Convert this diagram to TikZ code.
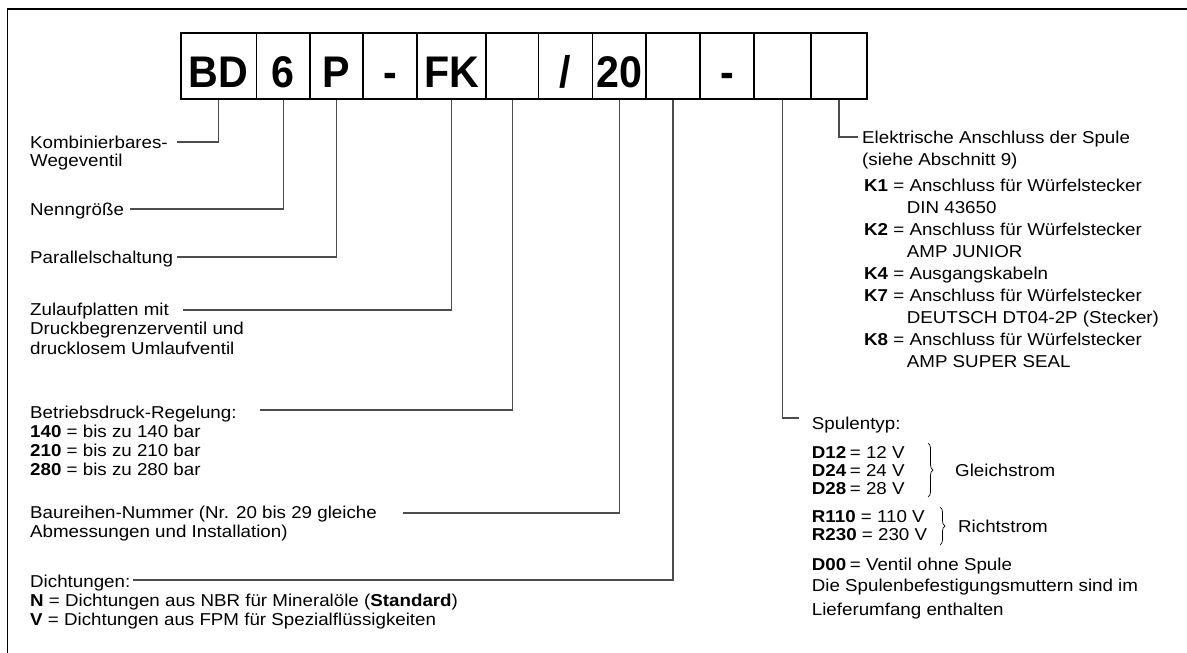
\documentclass[tikz,border=0pt]{standalone}
\usepackage{fontspec}
\setmainfont{Liberation Sans}[FakeStretch=1.09]
\newfontfamily\boxfont{Liberation Sans}[FakeStretch=0.93]
\usetikzlibrary{decorations.pathreplacing}
\begin{document}
\begin{tikzpicture}[x=1pt,y=-1pt,font=\fontsize{17.2}{19}\selectfont,
  box/.style={draw,line width=1.1pt,inner sep=0pt,minimum height=66pt,
    text height=42pt,text depth=0pt,
    font=\boxfont\fontsize{44.3}{44}\selectfont\bfseries},
  conn/.style={line width=1.1pt,black!70},
  lbl/.style={anchor=base west,inner sep=0pt},
  brc/.style={decorate,decoration={brace,amplitude=5pt},line width=0.7pt}]
\useasboundingbox (0,0) rectangle (1187,653);
\draw[line width=1.2pt] (7.5,653) -- (7.5,9) -- (1187,9);
% code boxes
\node[box,minimum width=75.5pt] (b1) at (218.75,66) {BD};
\node[box,minimum width=53.5pt] (b2) at (283.25,66) {6};
\node[box,minimum width=53pt] (b3) at (336.5,66) {P};
\node[box,minimum width=54pt] (b4) at (390,66) {-};
\node[box,minimum width=69pt] (b5) at (451.5,66) {FK};
\node[box,minimum width=52.5pt] (b6) at (512.25,66) {};
\node[box,minimum width=54.2pt] (b7) at (565.6,66) {/};
\node[box,minimum width=53.3pt] (b8) at (619.35,66) {20};
\node[box,minimum width=54pt] (b9) at (673,66) {};
\node[box,minimum width=54pt] (b10) at (727,66) {-};
\node[box,minimum width=57pt] (b11) at (782.5,66) {};
\node[box,minimum width=56pt] (b12) at (839,66) {};
% left labels
\node[lbl] (t1a) at (30,148) {Kombinierbares-};
\node[lbl] (t1b) at (30,166.5) {Wegeventil};
\node[lbl] (t2) at (30,215) {Nenngröße};
\node[lbl] (t3) at (30,263) {Parallelschaltung};
\node[lbl] (t4a) at (30,315) {Zulaufplatten mit};
\node[lbl] (t4b) at (30,334.5) {Druckbegrenzerventil und};
\node[lbl] (t4c) at (30,354) {drucklosem Umlaufventil};
\node[lbl] (t5a) at (30,418) {Betriebsdruck-Regelung:};
\node[lbl] (t5b) at (30,437) {\textbf{140} = bis zu 140 bar};
\node[lbl] (t5c) at (30,456) {\textbf{210} = bis zu 210 bar};
\node[lbl] (t5d) at (30,475) {\textbf{280} = bis zu 280 bar};
\node[lbl] (t6a) at (30,518) {Baureihen-Nummer (Nr. 20 bis 29 gleiche};
\node[lbl] (t6b) at (30,537) {Abmessungen und Installation)};
\node[lbl] (t7a) at (30,587) {Dichtungen:};
\node[lbl] (t7b) at (30,606) {\textbf{N} = Dichtungen aus NBR für Mineralöle (\textbf{Standard})};
\node[lbl] (t7c) at (30,625) {\textbf{V} = Dichtungen aus FPM für Spezialflüssigkeiten};
% right labels: electrical connection
\node[lbl] (r1a) at (862,143) {Elektrische Anschluss der Spule};
\node[lbl] (r1b) at (862,165) {(siehe Abschnitt 9)};
\node[lbl] (k1) at (864,191) {\textbf{K1} = Anschluss für Würfelstecker};
\node[lbl] (k1b) at (906.7,213) {DIN 43650};
\node[lbl] (k2) at (864,235) {\textbf{K2} = Anschluss für Würfelstecker};
\node[lbl] (k2b) at (906.7,257) {AMP JUNIOR};
\node[lbl] (k4) at (864,279) {\textbf{K4} = Ausgangskabeln};
\node[lbl] (k7) at (864,301) {\textbf{K7} = Anschluss für Würfelstecker};
\node[lbl] (k7b) at (906.7,323) {DEUTSCH DT04-2P (Stecker)};
\node[lbl] (k8) at (864,345) {\textbf{K8} = Anschluss für Würfelstecker};
\node[lbl] (k8b) at (906.7,367) {AMP SUPER SEAL};
% right labels: coil type
\node[lbl] (s0) at (811.7,429) {Spulentyp:};
\node[lbl] (s1) at (811.7,458) {\makebox[38pt][l]{\textbf{D12}}= 12 V};
\node[lbl] (s2) at (811.7,476) {\makebox[38pt][l]{\textbf{D24}}= 24 V};
\node[lbl] (s3) at (811.7,494) {\makebox[38pt][l]{\textbf{D28}}= 28 V};
\node[lbl] (s4) at (811.7,522) {\textbf{R110} = 110 V};
\node[lbl] (s5) at (811.7,540) {\textbf{R230} = 230 V};
\node[lbl] (s6) at (811.7,570) {\makebox[38pt][l]{\textbf{D00}}= Ventil ohne Spule};
\node[lbl] (s7) at (811.7,591) {Die Spulenbefestigungsmuttern sind im};
\node[lbl] (s8) at (811.7,615) {Lieferumfang enthalten};
\coordinate (g1) at (928,443);
\coordinate (g2) at (928,497);
\draw[brc] (g1) -- (g2);
\node[lbl] (gs) at (955,476) {Gleichstrom};
\coordinate (h1) at (940,507);
\coordinate (h2) at (940,545);
\draw[brc] (h1) -- (h2);
\node[lbl] (rs) at (958,532) {Richtstrom};
% connector ends
\coordinate (e1) at (176.7,142);
\coordinate (e2) at (130,209);
\coordinate (e3) at (176.7,257);
\coordinate (e4) at (183,310);
\coordinate (e5) at (260,410);
\coordinate (e6) at (403,513);
\coordinate (e7) at (133,580);
\coordinate (e8) at (799,418);
\coordinate (e9) at (858,137);
\draw[conn] (b1.south) |- (e1);
\draw[conn] (b2.south) |- (e2);
\draw[conn] (b3.south) |- (e3);
\draw[conn] (b5.south) |- (e4);
\draw[conn] (b6.south) |- (e5);
\draw[conn] (b8.south) |- (e6);
\draw[conn] (b9.south) |- (e7);
\draw[conn] (b11.south) |- (e8);
\draw[conn] (b12.south) |- (e9);
\end{tikzpicture}
\end{document}
